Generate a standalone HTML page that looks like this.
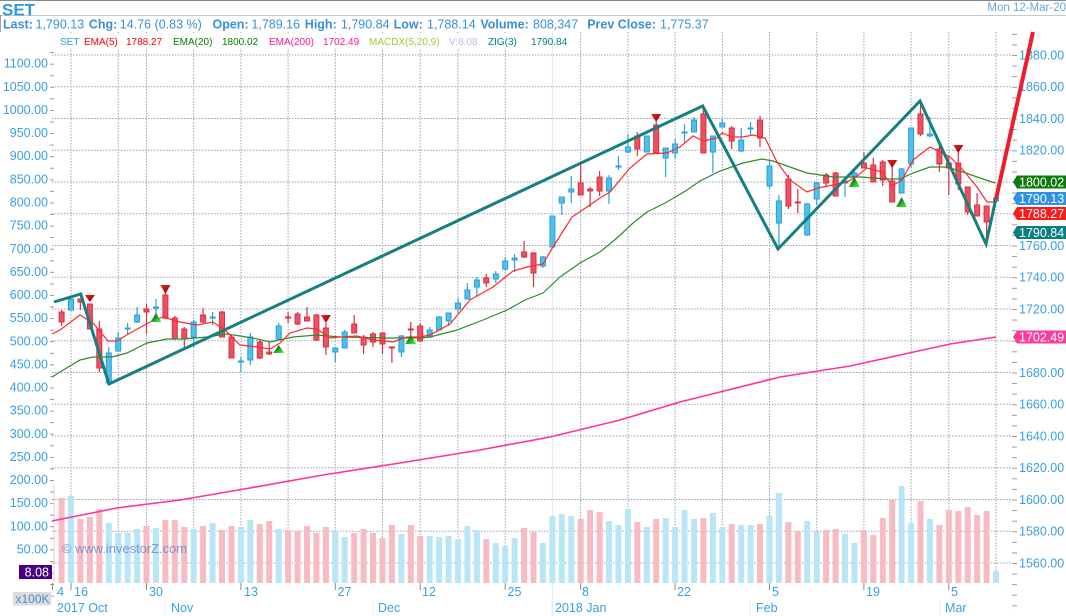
<!DOCTYPE html>
<html><head><meta charset="utf-8"><style>
html,body{margin:0;padding:0;background:#fff;}
svg{display:block;}
text{font-family:"Liberation Sans",Arial,sans-serif;}
</style></head><body>
<svg width="1066" height="616" viewBox="0 0 1066 616" xmlns="http://www.w3.org/2000/svg">
<defs>
<pattern id="rt" x="1012" y="55" width="8" height="10.5833" patternUnits="userSpaceOnUse"><rect x="0" y="0" width="5" height="1" fill="#9a9a9a"/></pattern>
<pattern id="lt" x="50" y="52.1" width="8" height="11.565" patternUnits="userSpaceOnUse"><rect x="0" y="0" width="4" height="1" fill="#9a9a9a"/></pattern>
<linearGradient id="gup" x1="0" y1="0" x2="1" y2="1"><stop offset="0" stop-color="#0a3a0a"/><stop offset="0.5" stop-color="#1aa01a"/><stop offset="1" stop-color="#55ff55"/></linearGradient>
<linearGradient id="gdn" x1="0" y1="0" x2="1" y2="1"><stop offset="0" stop-color="#ee2020"/><stop offset="1" stop-color="#8a0000"/></linearGradient>
</defs>
<rect width="1066" height="616" fill="#fff"/>
<!-- header -->
<line x1="0" y1="0.5" x2="1066" y2="0.5" stroke="#8a8a8a"/>
<line x1="0" y1="15.5" x2="1066" y2="15.5" stroke="#c8c8c8"/>
<line x1="0.5" y1="15" x2="0.5" y2="32" stroke="#a0a0a0"/>
<text x="2" y="15.5" font-size="17" font-weight="bold" fill="#3399dd">SET</text>
<text x="1066" y="11" font-size="11.5" fill="#66a8dc" text-anchor="end">Mon 12-Mar-20</text>
<g font-size="12.5" fill="#3a8fd6">
<text x="3" y="28.5" font-weight="bold">Last:</text>
<text x="35.5" y="28.5">1,790.13</text>
<text x="88.8" y="28.5" font-weight="bold">Chg:</text>
<text x="119.8" y="28.5">14.76 (0.83 %)</text>
<text x="212.5" y="28.5" font-weight="bold">Open:</text>
<text x="251.4" y="28.5">1,789.16</text>
<text x="304.8" y="28.5" font-weight="bold">High:</text>
<text x="340.9" y="28.5">1,790.84</text>
<text x="393.6" y="28.5" font-weight="bold">Low:</text>
<text x="427" y="28.5">1,788.14</text>
<text x="480.4" y="28.5" font-weight="bold">Volume:</text>
<text x="533" y="28.5">808,347</text>
<text x="587.2" y="28.5" font-weight="bold">Prev Close:</text>
<text x="660" y="28.5">1,775.37</text>
</g>
<!-- gridlines -->
<g stroke="#9aa0ae" stroke-width="1" stroke-dasharray="1.5 1.5" fill="none">
<path d="M52 55H1012M52 86.75H1012M52 118.5H1012M52 150.25H1012M52 182H1012M52 213.75H1012M52 245.5H1012M52 277.25H1012M52 309H1012M52 340.75H1012M52 372.5H1012M52 404.25H1012M52 436H1012M52 467.75H1012M52 499.5H1012M52 531.25H1012M52 563H1012"/>
<path d="M71 32V583M118.2 32V583M146.5 32V583M193.7 32V583M240.9 32V583M288.1 32V583M335.3 32V583M382.5 32V583M420.2 32V583M458 32V583M505.2 32V583M580.7 32V583M627.9 32V583M675.1 32V583M722.3 32V583M769.5 32V583M816.7 32V583M863.9 32V583M911.1 32V583M948.8 32V583M996 32V583"/>
</g>
<line x1="552.4" y1="32" x2="552.4" y2="616" stroke="#d6ebf8" stroke-width="1"/>
<!-- legend -->
<rect x="52" y="33" width="496" height="15" fill="#fff"/>
<g font-size="10">
<text x="60" y="45" fill="#3399dd">SET</text>
<text x="84" y="45" fill="#ff0000">EMA(5)</text>
<text x="126" y="45" fill="#ff0000">1788.27</text>
<text x="173" y="45" fill="#008000">EMA(20)</text>
<text x="222" y="45" fill="#008000">1800.02</text>
<text x="269" y="45" fill="#ff1493">EMA(200)</text>
<text x="323" y="45" fill="#ff1493">1702.49</text>
<text x="369" y="45" fill="#9acd32">MACDX(5,20,9)</text>
<text x="449" y="45" fill="#c4b4e0">V:8.08</text>
<text x="488" y="45" fill="#008080">ZIG(3)</text>
<text x="531" y="45" fill="#008080">1790.84</text>
</g>
<!-- left axis -->
<rect x="50" y="50" width="4" height="555" fill="url(#lt)"/>
<g font-size="12.5" fill="#3a9fe0" text-anchor="end">
<text x="48" y="67.7">1100.00</text>
<text x="48" y="90.8">1050.00</text>
<text x="48" y="113.9">1000.00</text>
<text x="48" y="137.1">950.00</text>
<text x="48" y="160.2">900.00</text>
<text x="48" y="183.4">850.00</text>
<text x="48" y="206.5">800.00</text>
<text x="48" y="229.6">750.00</text>
<text x="48" y="252.8">700.00</text>
<text x="48" y="275.9">650.00</text>
<text x="48" y="299">600.00</text>
<text x="48" y="322.1">550.00</text>
<text x="48" y="345.3">500.00</text>
<text x="48" y="368.4">450.00</text>
<text x="48" y="391.5">400.00</text>
<text x="48" y="414.7">350.00</text>
<text x="48" y="437.8">300.00</text>
<text x="48" y="460.9">250.00</text>
<text x="48" y="484">200.00</text>
<text x="48" y="507.2">150.00</text>
<text x="48" y="530.3">100.00</text>
<text x="48" y="553.4">50.00</text>
</g>
<!-- right axis -->
<rect x="1012" y="33" width="6" height="583" fill="url(#rt)"/>
<g font-size="12.5" fill="#3a9fe0">
<text x="1019" y="59.5">1880.00</text>
<text x="1019" y="91.2">1860.00</text>
<text x="1019" y="123">1840.00</text>
<text x="1019" y="154.7">1820.00</text>
<text x="1019" y="250">1760.00</text>
<text x="1019" y="281.7">1740.00</text>
<text x="1019" y="313.5">1720.00</text>
<text x="1019" y="377">1680.00</text>
<text x="1019" y="408.7">1660.00</text>
<text x="1019" y="440.5">1640.00</text>
<text x="1019" y="472.2">1620.00</text>
<text x="1019" y="504">1600.00</text>
<text x="1019" y="535.7">1580.00</text>
<text x="1019" y="567.5">1560.00</text>
</g>
<!-- volume -->
<line x1="54" y1="485" x2="54" y2="583" stroke="#f5c6cc"/>
<path fill="#f7bcc3" d="M58.6 498h6V583h-6zM77.4 519h6V583h-6zM86.9 517h6V583h-6zM96.3 509h6V583h-6zM143.5 526h6V583h-6zM162.4 520h6V583h-6zM171.8 520h6V583h-6zM181.3 527h6V583h-6zM200.1 526h6V583h-6zM219 530h6V583h-6zM228.5 526h6V583h-6zM256.8 524h6V583h-6zM266.2 521h6V583h-6zM285.1 530h6V583h-6zM294.5 531h6V583h-6zM304 526h6V583h-6zM313.4 533h6V583h-6zM322.9 527h6V583h-6zM351.2 533h6V583h-6zM360.6 529h6V583h-6zM370 533h6V583h-6zM379.5 538h6V583h-6zM388.9 525h6V583h-6zM407.8 525h6V583h-6zM417.2 536h6V583h-6zM483.3 539h6V583h-6zM521.1 528h6V583h-6zM530.5 532h6V583h-6zM577.7 519h6V583h-6zM587.1 510h6V583h-6zM596.6 512h6V583h-6zM634.3 522h6V583h-6zM653.2 519h6V583h-6zM700.4 518h6V583h-6zM728.7 524h6V583h-6zM757 524h6V583h-6zM785.4 522h6V583h-6zM794.8 531h6V583h-6zM823.1 530h6V583h-6zM832.6 529h6V583h-6zM860.9 530h6V583h-6zM870.3 535h6V583h-6zM879.8 518h6V583h-6zM889.2 500h6V583h-6zM917.5 501h6V583h-6zM936.4 525h6V583h-6zM945.8 510h6V583h-6zM955.3 511h6V583h-6zM964.7 507h6V583h-6zM974.1 515h6V583h-6zM983.6 511h6V583h-6z"/>
<path fill="#b8e6f6" d="M68 496h6V583h-6zM105.8 523h6V583h-6zM115.2 533h6V583h-6zM124.6 533h6V583h-6zM134.1 529h6V583h-6zM153 528h6V583h-6zM190.7 529h6V583h-6zM209.6 523h6V583h-6zM237.9 527h6V583h-6zM247.3 520h6V583h-6zM275.7 529h6V583h-6zM332.3 531h6V583h-6zM341.7 537h6V583h-6zM398.4 534h6V583h-6zM426.7 536h6V583h-6zM436.1 537h6V583h-6zM445.6 536h6V583h-6zM455 539h6V583h-6zM464.4 526h6V583h-6zM473.9 530h6V583h-6zM492.8 543h6V583h-6zM502.2 546h6V583h-6zM511.6 538h6V583h-6zM539.9 543h6V583h-6zM549.4 516h6V583h-6zM558.8 514h6V583h-6zM568.3 516h6V583h-6zM606 521h6V583h-6zM615.5 525h6V583h-6zM624.9 509h6V583h-6zM643.8 527h6V583h-6zM662.7 518h6V583h-6zM672.1 527h6V583h-6zM681.5 510h6V583h-6zM691 519h6V583h-6zM709.9 513h6V583h-6zM719.3 527h6V583h-6zM738.2 525h6V583h-6zM747.6 525h6V583h-6zM766.5 516h6V583h-6zM775.9 493h6V583h-6zM804.2 521h6V583h-6zM813.7 532h6V583h-6zM842 534h6V583h-6zM851.4 543h6V583h-6zM898.6 486h6V583h-6zM908.1 523h6V583h-6zM926.9 519h6V583h-6zM993 571h6V583h-6z"/>
<text x="62" y="553" font-size="13" fill="#5a7cc8" fill-opacity="0.75" textLength="125" lengthAdjust="spacingAndGlyphs">© www.investorZ.com</text>
<!-- EMA200 -->
<polyline fill="none" stroke="#ff3399" stroke-width="1.6" points="52,521 117,508 180,500 250,488 323,475 400,463 480,450 550,437 620,420 680,402 720,392 780,377 850,366 900,355 950,344 996,337"/>
<!-- candle wicks -->
<path fill="none" stroke="#d43344" stroke-width="1.2" d="M61.6 310V326M80.4 299V310M89.9 304V329M99.3 321V372M146.5 304V334M165.4 293V319M174.8 316V340M184.3 327V347M203.1 308V323M222 311V337M231.5 335V358M259.8 340V359M269.2 342V355M288.1 312V323M297.5 312V325M307 307V321M316.4 314V341M325.9 323V355M354.2 315V333M363.6 335V354M373 332V347M382.5 332V354M391.9 347V363M410.8 322V340M420.2 323V342M486.3 274V287M524.1 241V258M533.5 252V287M580.7 162V195M590.1 187V207M599.6 171V196M637.3 132V156M656.2 122V153M703.4 108V153M731.7 126V149M760 116V147M788.4 175V209M797.8 189V213M826.1 173V187M835.6 172V196M863.9 152V168M873.3 158V182M882.7 160V186M892.2 167V202M920.5 105V136M939.4 143V172M948.8 155V195M958.3 152V190M967.7 187V215M977.1 193V216M986.6 206V245"/>
<path fill="none" stroke="#2ea2da" stroke-width="1.2" d="M71 299V310M108.8 347V384M118.2 332V352M127.6 323V334M137.1 307V323M156 299V317M193.7 320V347M212.6 312V325M240.9 357V372M250.3 333V365M278.7 323V340M335.3 347V362M344.7 330V348M401.4 335V357M429.7 327V338M439.1 316V330M448.6 313V326M458 298V313M467.4 283V299M476.9 277V296M495.8 271V283M505.2 257V271M514.6 254V272M542.9 256V268M552.4 216V247M561.8 197V215M571.3 176V203M609 175V204M618.5 156V170M627.9 134V153M646.8 136V152M665.7 148V177M675.1 139V159M684.5 124V143M694 117V132M712.9 136V173M722.3 119V127M741.2 128V152M750.6 122V135M769.5 161V189M778.9 195V249M807.2 203V236M816.7 182V205M845 178V197M854.4 170V177M901.6 168V193M911.1 128V168M929.9 117V137M996 197V202"/>
<!-- red bodies -->
<g fill="#ec5062" stroke="#d43344" stroke-width="1">
<rect x="59.1" y="312" width="5" height="10"/><rect x="77.9" y="299" width="5" height="3"/><rect x="87.4" y="304" width="5" height="25"/><rect x="96.8" y="329" width="5" height="39"/><rect x="144" y="309" width="5" height="3"/><rect x="162.9" y="295" width="5" height="23"/><rect x="172.3" y="318" width="5" height="21"/><rect x="181.8" y="329" width="5" height="10"/><rect x="200.6" y="315" width="5" height="7"/><rect x="219.5" y="312" width="5" height="25"/><rect x="229" y="337" width="5" height="21"/><rect x="257.3" y="342" width="5" height="16"/><rect x="266.7" y="352" width="5" height="2"/><rect x="285.6" y="317" width="5" height="1"/><rect x="295" y="314" width="5" height="10"/><rect x="304.5" y="317" width="5" height="4"/><rect x="313.9" y="315" width="5" height="25"/><rect x="323.4" y="328" width="5" height="19"/><rect x="351.7" y="324" width="5" height="9"/><rect x="361.1" y="337" width="5" height="8"/><rect x="370.5" y="334" width="5" height="8"/><rect x="380" y="333" width="5" height="11"/><rect x="389.4" y="347" width="5" height="1"/><rect x="408.3" y="329" width="5" height="1"/><rect x="417.7" y="326" width="5" height="15"/><rect x="483.8" y="278" width="5" height="5"/><rect x="521.6" y="252" width="5" height="5"/><rect x="531" y="253" width="5" height="20"/><rect x="578.2" y="183" width="5" height="12"/><rect x="587.6" y="189" width="5" height="2"/><rect x="597.1" y="177" width="5" height="14"/><rect x="634.8" y="136" width="5" height="13"/><rect x="653.7" y="125" width="5" height="28"/><rect x="700.9" y="114" width="5" height="39"/><rect x="729.2" y="128" width="5" height="13"/><rect x="757.5" y="120" width="5" height="18"/><rect x="785.9" y="179" width="5" height="27"/><rect x="795.3" y="202" width="5" height="1"/><rect x="823.6" y="175" width="5" height="8"/><rect x="833.1" y="173" width="5" height="23"/><rect x="861.4" y="163" width="5" height="5"/><rect x="870.8" y="165" width="5" height="17"/><rect x="880.2" y="162" width="5" height="18"/><rect x="889.7" y="181" width="5" height="21"/><rect x="918" y="114" width="5" height="20"/><rect x="936.9" y="149" width="5" height="15"/><rect x="946.3" y="163" width="5" height="5"/><rect x="955.8" y="163" width="5" height="21"/><rect x="965.2" y="187" width="5" height="25"/><rect x="974.6" y="205" width="5" height="11"/><rect x="984.1" y="206" width="5" height="16"/>
</g>
<!-- blue bodies -->
<g fill="#4fc0ea" stroke="#2b9fd8" stroke-width="1">
<rect x="68.5" y="299" width="5" height="11"/><rect x="106.3" y="353" width="5" height="30"/><rect x="115.7" y="338" width="5" height="13"/><rect x="125.1" y="328" width="5" height="1"/><rect x="134.6" y="315" width="5" height="7"/><rect x="153.5" y="307" width="5" height="1"/><rect x="191.2" y="322" width="5" height="15"/><rect x="210.1" y="317" width="5" height="1"/><rect x="238.4" y="361" width="5" height="1"/><rect x="247.8" y="337" width="5" height="23"/><rect x="276.2" y="326" width="5" height="13"/><rect x="332.8" y="348" width="5" height="4"/><rect x="342.2" y="332" width="5" height="16"/><rect x="398.9" y="336" width="5" height="16"/><rect x="427.2" y="330" width="5" height="7"/><rect x="436.6" y="317" width="5" height="13"/><rect x="446.1" y="313" width="5" height="8"/><rect x="455.5" y="303" width="5" height="6"/><rect x="464.9" y="290" width="5" height="9"/><rect x="474.4" y="280" width="5" height="7"/><rect x="493.3" y="274" width="5" height="5"/><rect x="502.7" y="261" width="5" height="8"/><rect x="512.1" y="258" width="5" height="2"/><rect x="540.4" y="257" width="5" height="9"/><rect x="549.9" y="216" width="5" height="31"/><rect x="559.3" y="197" width="5" height="6"/><rect x="568.8" y="189" width="5" height="3"/><rect x="606.5" y="178" width="5" height="13"/><rect x="616" y="166" width="5" height="1"/><rect x="625.4" y="147" width="5" height="5"/><rect x="644.3" y="136" width="5" height="16"/><rect x="663.2" y="148" width="5" height="10"/><rect x="672.6" y="144" width="5" height="9"/><rect x="682" y="132" width="5" height="1"/><rect x="691.5" y="120" width="5" height="12"/><rect x="710.4" y="136" width="5" height="16"/><rect x="719.8" y="123" width="5" height="4"/><rect x="738.7" y="140" width="5" height="11"/><rect x="748.1" y="128" width="5" height="1"/><rect x="767" y="166" width="5" height="20"/><rect x="776.4" y="201" width="5" height="22"/><rect x="804.7" y="204" width="5" height="31"/><rect x="814.2" y="183" width="5" height="16"/><rect x="842.5" y="181" width="5" height="2"/><rect x="851.9" y="173" width="5" height="3"/><rect x="899.1" y="169" width="5" height="24"/><rect x="908.6" y="128" width="5" height="36"/><rect x="927.4" y="134" width="5" height="2"/><rect x="993.5" y="198" width="5" height="3"/>
</g>
<!-- EMA20 -->
<polyline fill="none" stroke="#2e8b2e" stroke-width="1.2" points="52,377 60,372 80,360 93,357 112,357 127,353 147,343 167,339 183,339 207,337 227,334 253,338 270,342 293,337 317,335 340,337 390,338 420,338 430,337 457,330 483,320 507,310 525,300 543,293 560,277 580,263 600,252 617,238 633,223 647,212 667,202 687,190 700,181 720,171 743,163 762,159 773,161 790,167 807,173 833,177 860,177 887,179 900,179 913,173 930,167 947,167 963,172 980,178 995,183"/>
<!-- EMA5 -->
<polyline fill="none" stroke="#ff2a2a" stroke-width="1.2" points="52,334 60,330 80,315 93,323 108,341 117,341 130,333 150,322 163,317 180,322 197,325 213,322 225,330 240,345 257,347 270,349 280,343 290,333 307,328 317,329 330,338 340,337 357,336 373,340 393,342 407,337 420,337 430,335 450,324 470,300 493,287 513,271 527,267 543,264 553,247 572,217 587,207 600,198 610,192 630,168 647,154 667,153 680,147 693,136 703,141 717,138 722,133 732,137 743,137 753,135 765,138 777,162 790,180 807,192 818,188 833,185 847,182 857,176 867,168 882,172 892,186 902,180 913,160 930,147 940,152 950,157 963,170 977,187 987,202 997,202"/>
<!-- zigzag -->
<polyline fill="none" stroke="#16807f" stroke-width="3" stroke-linejoin="miter" points="54,302 80.7,294 109,384 702.7,106 778,249 920,101 986,244 996,198"/>
<line x1="996" y1="199" x2="1033" y2="32" stroke="#ee1c2c" stroke-width="4"/>
<!-- triangles -->
<g fill="url(#gdn)">
<polygon points="84.9,295 94.9,295 89.9,302"/>
<polygon points="160.4,285 170.4,285 165.4,294"/>
<polygon points="320.9,315 330.9,315 325.9,323"/>
<polygon points="651.2,114 661.2,114 656.2,122"/>
<polygon points="887.2,160 897.2,160 892.2,168"/>
<polygon points="953.3,145 963.3,145 958.3,153"/>
</g>
<g fill="url(#gup)">
<polygon points="150.5,322 161.5,322 156,313"/>
<polygon points="273.2,353 284.2,353 278.7,345"/>
<polygon points="405.3,344 416.3,344 410.8,335"/>
<polygon points="848.9,187 859.9,187 854.4,177"/>
<polygon points="896.1,207 907.1,207 901.6,197"/>
</g>
<!-- value flags -->
<path d="M1013 182L1017 175.5H1066V188.5H1017Z" fill="#0c7a0c"/>
<path d="M1013 198.5L1017 192H1066V205H1017Z" fill="#2d91e8"/>
<path d="M1013 213.5L1017 207H1066V220H1017Z" fill="#ff1a1a"/>
<path d="M1013 232.5L1017 226H1066V239H1017Z" fill="#0b7e7e"/>
<path d="M1013 337L1017 330.5H1066V343.5H1017Z" fill="#ff3b9a"/>
<g font-size="12.5" fill="#fff">
<text x="1019" y="186.5">1800.02</text>
<text x="1019" y="203">1790.13</text>
<text x="1019" y="218">1788.27</text>
<text x="1019" y="237">1790.84</text>
<text x="1019" y="341.5">1702.49</text>
</g>
<!-- left boxes -->
<rect x="19" y="565" width="33" height="14" fill="#4b0082"/>
<text x="49" y="576.5" font-size="12.5" fill="#fff" text-anchor="end">8.08</text>
<rect x="13" y="592" width="38" height="13.5" fill="#dcdcdc"/>
<text x="15.5" y="603" font-size="12" fill="#4a90d0">x100K</text>
<!-- x-axis ticks -->
<path stroke="#8a8a8a" stroke-width="1" d="M52.5 583V590M71 583V590M146.5 583V590M240.9 583V590M335.3 583V590M420.2 583V590M505.2 583V590M580.7 583V590M675.1 583V590M769.5 583V590M863.9 583V590M948.8 583V590"/>
<path stroke="#dfeefa" stroke-width="1" d="M165 600V616M373 600V616M552 600V616M750 600V616M940 600V616"/>
<g font-size="12.5" fill="#3a9fe0">
<text x="57" y="596">4</text>
<text x="74" y="596">16</text>
<text x="149" y="596">30</text>
<text x="244" y="596">13</text>
<text x="337.5" y="596">27</text>
<text x="422" y="596">12</text>
<text x="507.5" y="596">25</text>
<text x="582" y="596">8</text>
<text x="677" y="596">22</text>
<text x="772" y="596">5</text>
<text x="866" y="596">19</text>
<text x="951" y="596">5</text>
<text x="57" y="612">2017 Oct</text>
<text x="171" y="612">Nov</text>
<text x="378" y="612">Dec</text>
<text x="555" y="612">2018 Jan</text>
<text x="756" y="612">Feb</text>
<text x="945" y="612">Mar</text>
</g>
</svg>
</body></html>
